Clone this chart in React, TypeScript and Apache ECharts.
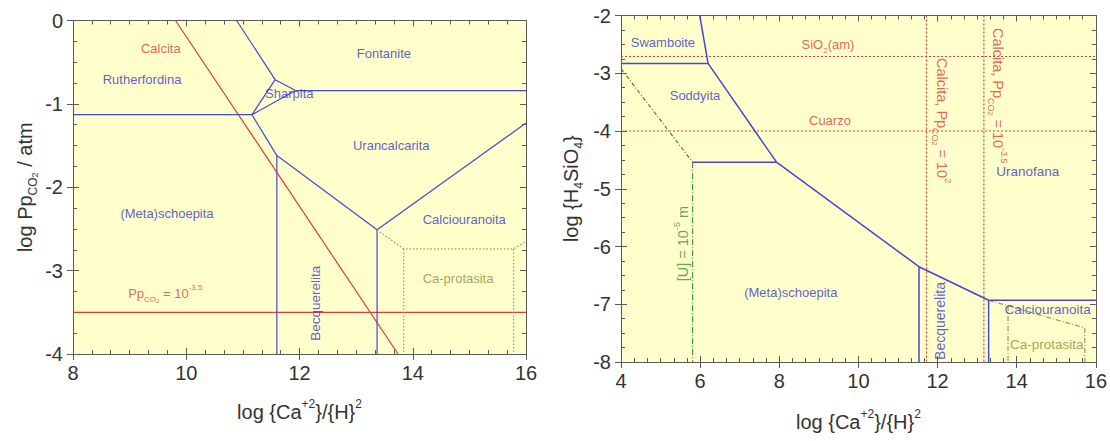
import React, { useEffect, useRef } from 'react';
import * as echarts from 'echarts';

const FONT = '"Liberation Sans", Arial, Helvetica, sans-serif';
const BLUE = '#4646D2';
const BLUE_TXT = '#3535C8';
const RED = '#E23A3A';
const OLIVE = '#9A9A48';
const OLIVE_TXT = '#8C8C3A';
const GREEN = '#3A8F2E';
const AXIS = '#5a5a5a';
const BG = '#FFFFCC';

// ---------- Left diagram: log Pp CO2 vs log {Ca+2}/{H}2 ----------
const leftX = { min: 8, max: 16, interval: 2 };
const leftY = { min: -4, max: 0, interval: 1 };
const leftCalcita = [[9.81, 0], [13.74, -4]];
const leftPpCO2 = [[8, -3.5], [16, -3.5]];
const leftBoundaries = [
  [[8, -1.13], [11.16, -1.13]],
  [[10.89, 0], [11.57, -0.71]],
  [[11.57, -0.71], [11.16, -1.13]],
  [[11.57, -0.71], [11.93, -0.84]],
  [[11.16, -1.13], [11.93, -0.84]],
  [[11.93, -0.84], [16, -0.84]],
  [[11.16, -1.13], [11.6, -1.62]],
  [[11.6, -1.62], [11.6, -4]],
  [[11.6, -1.62], [13.37, -2.51]],
  [[13.37, -2.51], [13.37, -4]],
  [[13.37, -2.51], [16, -1.23]],
];
const leftCaProtasita = [
  [[13.37, -2.51], [13.84, -2.74], [15.78, -2.74], [16, -2.65]],
  [[13.84, -2.74], [13.84, -4]],
  [[15.78, -2.74], [15.78, -4]],
];
const leftLabelTexts = [
  'Calcita', 'Rutherfordina', 'Sharpita', 'Fontanite', 'Urancalcarita',
  '(Meta)schoepita', 'Calciouranoita', 'Ca-protasita', 'Becquerelita',
  'Pp{sub|CO}{sub2|2} = 10{sup|-3.5}',
];
const leftLabelAt = [
  [9.55, -0.34], [9.22, -0.71], [11.82, -0.88], [13.49, -0.4], [13.62, -1.5],
  [9.66, -2.31], [14.91, -2.39], [14.8, -3.09], [12.28, -3.39], [9.63, -3.28],
];
const leftLabelKind = ['red', 'blue', 'blue', 'blue', 'blue', 'blue', 'blue', 'olive', 'blue', 'red'];
const leftLabelRotate = [0, 0, 0, 0, 0, 0, 0, 0, 90, 0];
const leftLabelSize = [13, 13, 13, 13, 13, 13, 13, 13, 13.5, 13];

// ---------- Right diagram: log {H4SiO4} vs log {Ca+2}/{H}2 ----------
const rightX = { min: 4, max: 16, interval: 2 };
const rightY = { min: -8, max: -2, interval: 1 };
const rightBoundaries = [
  [[4, -2.83], [6.2, -2.83]],
  [[5.99, -2], [6.2, -2.83]],
  [[6.2, -2.83], [7.93, -4.54]],
  [[5.81, -4.54], [7.93, -4.54]],
  [[7.93, -4.54], [11.53, -6.35]],
  [[11.53, -6.35], [11.53, -8]],
  [[11.53, -6.35], [13.29, -6.93]],
  [[13.29, -6.93], [16, -6.93]],
  [[13.29, -6.93], [13.29, -8]],
];
const rightSilica = [
  [[4, -2.71], [16, -2.71]],
  [[4, -4.0], [16, -4.0]],
];
const rightCalcite = [
  [[11.72, -2], [11.72, -8]],
  [[13.17, -2], [13.17, -8]],
];
const rightCaProtasita = [
  [[13.29, -6.93], [15.72, -7.41]],
  [[15.72, -7.41], [15.72, -8]],
  [[13.78, -7.03], [13.78, -8]],
];
const rightUraniumDiag = [[4, -2.92], [5.81, -4.54]];
const rightUraniumVert = [[5.81, -4.54], [5.81, -8]];
const rightLabelTexts = [
  'Swamboite', 'SiO{sub|2}(am)', 'Soddyita', 'Cuarzo',
  'Calcita, Pp{sub|CO}{sub2|2} = 10{sup|2}', 'Calcita, Pp{sub|CO}{sub2|2} = 10{sup|-3.5}',
  'Uranofana', '[U] = 10{sup|-5} m', '(Meta)schoepita', 'Becquerelita',
  'Calciouranoita', 'Ca-protasita',
];
const rightLabelAt = [
  [5.06, -2.46], [9.23, -2.51], [5.87, -3.39], [9.28, -3.82],
  [12.11, -3.82], [13.52, -3.39],
  [14.28, -4.7], [5.57, -5.95], [8.29, -6.79], [12.06, -7.29],
  [14.78, -7.09], [14.76, -7.69],
];
const rightLabelKind = ['blue', 'red', 'blue', 'red', 'red', 'red', 'blue', 'green', 'blue', 'blue', 'blue', 'olive'];
const rightLabelRotate = [0, 0, 0, 0, -90, -90, 0, 90, 0, 90, 0, 0];
const rightLabelSize = [13, 13, 13, 13, 14.5, 14.5, 13.5, 14.5, 13, 14, 13.5, 13.5];

const kindColor: Record<string, string> = { blue: BLUE_TXT, red: RED, olive: OLIVE_TXT, green: GREEN };

function richFor(color: string, base: number) {
  return {
    sup: { fontSize: Math.round(base * 0.62), verticalAlign: 'top', lineHeight: Math.round(base * 0.62), color, fontFamily: FONT },
    sub: { fontSize: Math.round(base * 0.62), verticalAlign: 'bottom', lineHeight: Math.round(base * 0.62), color, fontFamily: FONT },
    sub2: { fontSize: Math.round(base * 0.45), verticalAlign: 'bottom', lineHeight: Math.round(base * 0.45), color, fontFamily: FONT },
  };
}

const tickLine = { color: AXIS, width: 1 };

function axesX(gridIndex: number, r: { min: number; max: number; interval: number }, name: string, nameGap: number) {
  const common = {
    type: 'value', gridIndex, min: r.min, max: r.max, interval: r.interval,
    axisLine: { show: true, onZero: false, lineStyle: tickLine },
    splitLine: { show: false },
  };
  return [
    {
      ...common, position: 'bottom',
      axisTick: { show: true, inside: false, length: 6, lineStyle: tickLine },
      axisLabel: { fontSize: 20, color: '#333', margin: 9, fontFamily: FONT },
      name, nameLocation: 'middle', nameGap,
      nameTextStyle: { fontSize: 20, color: '#333', fontFamily: FONT, lineHeight: 28, rich: richFor('#333', 20) },
    },
    {
      ...common, position: 'bottom',
      axisTick: { show: true, inside: true, length: 6, lineStyle: tickLine },
      minorTick: { show: true, splitNumber: 6, length: 4, lineStyle: tickLine },
      axisLabel: { show: false },
    },
    {
      ...common, position: 'top',
      axisTick: { show: true, inside: true, length: 6, lineStyle: tickLine },
      minorTick: { show: true, splitNumber: 6, length: 4, lineStyle: tickLine },
      axisLabel: { show: false },
    },
  ];
}

function axesY(gridIndex: number, r: { min: number; max: number; interval: number }, name: string, nameGap: number) {
  const common = {
    type: 'value', gridIndex, min: r.min, max: r.max, interval: r.interval,
    axisLine: { show: true, onZero: false, lineStyle: tickLine },
    splitLine: { show: false },
  };
  return [
    {
      ...common, position: 'left',
      axisTick: { show: true, inside: false, length: 6, lineStyle: tickLine },
      axisLabel: { fontSize: 20, color: '#333', margin: 10, fontFamily: FONT },
      name, nameLocation: 'middle', nameGap, nameRotate: 90,
      nameTextStyle: { fontSize: 20, color: '#333', fontFamily: FONT, lineHeight: 28, rich: richFor('#333', 20) },
    },
    {
      ...common, position: 'left',
      axisTick: { show: true, inside: true, length: 6, lineStyle: tickLine },
      minorTick: { show: true, splitNumber: 4, length: 4, lineStyle: tickLine },
      axisLabel: { show: false },
    },
    {
      ...common, position: 'right',
      axisTick: { show: true, inside: true, length: 6, lineStyle: tickLine },
      minorTick: { show: true, splitNumber: 4, length: 4, lineStyle: tickLine },
      axisLabel: { show: false },
    },
  ];
}

function seg(points: number[][], xi: number, yi: number, color: string, type: any, width = 1.2) {
  return {
    type: 'line', xAxisIndex: xi, yAxisIndex: yi, data: points,
    symbol: 'none', showSymbol: false, silent: true, z: 3,
    lineStyle: { color, width, type },
  };
}

function labelSeries(texts: string[], at: number[][], kinds: string[], rots: number[], sizes: number[], xi: number, yi: number) {
  return {
    type: 'scatter', xAxisIndex: xi, yAxisIndex: yi, symbolSize: 1, silent: true, z: 5,
    itemStyle: { color: 'rgba(0,0,0,0)' },
    data: texts.map((t, i) => ({
      value: at[i],
      label: {
        show: true, position: 'inside', formatter: t, rotate: rots[i],
        fontSize: sizes[i], lineHeight: Math.round(sizes[i] * 1.5), fontFamily: FONT, color: kindColor[kinds[i]],
        rich: richFor(kindColor[kinds[i]], sizes[i]),
      },
    })),
  };
}

function buildOption() {
  const series: any[] = [];
  // left grid uses xAxis 0, yAxis 0
  series.push(seg(leftPpCO2, 0, 0, RED, 'solid', 1.2));
  series.push(seg(leftCalcita, 0, 0, RED, 'solid', 1.2));
  leftBoundaries.forEach((s) => series.push(seg(s, 0, 0, BLUE, 'solid', 1.2)));
  leftCaProtasita.forEach((s) => series.push(seg(s, 0, 0, OLIVE, [1.5, 2], 1.2)));
  series.push(labelSeries(leftLabelTexts, leftLabelAt, leftLabelKind, leftLabelRotate, leftLabelSize, 0, 0));
  // right grid uses xAxis 3, yAxis 3
  rightSilica.forEach((s) => series.push(seg(s, 3, 3, RED, [2, 2], 1.2)));
  rightCalcite.forEach((s) => series.push(seg(s, 3, 3, RED, [2, 2], 1.2)));
  series.push(seg(rightUraniumDiag, 3, 3, '#556B3A', [4, 2, 1, 2], 1.1));
  series.push(seg(rightUraniumVert, 3, 3, GREEN, [6, 2, 1, 2], 1.1));
  rightCaProtasita.forEach((s) => series.push(seg(s, 3, 3, OLIVE, [5, 2, 1, 2], 1.2)));
  rightBoundaries.forEach((s) => series.push(seg(s, 3, 3, BLUE, 'solid', 1.5)));
  series.push(labelSeries(rightLabelTexts, rightLabelAt, rightLabelKind, rightLabelRotate, rightLabelSize, 3, 3));

  const xName = 'log {Ca{sup|+2}}/{H}{sup|2}';
  return {
    animation: false,
    backgroundColor: '#ffffff',
    grid: [
      { left: 73, top: 20.5, width: 453, height: 333.5, show: true, backgroundColor: BG, borderWidth: 0 },
      { left: 621, top: 15.5, width: 475, height: 347.5, show: true, backgroundColor: BG, borderWidth: 0 },
    ],
    xAxis: [
      ...axesX(0, leftX, xName, 44),
      ...axesX(1, rightX, xName, 46),
    ],
    yAxis: [
      ...axesY(0, leftY, 'log Pp{sub|CO}{sub2|2} / atm', 34),
      ...axesY(1, rightY, 'log {H{sub|4}SiO{sub|4}}', 36),
    ],
    series,
  };
}

export default function App() {
  const ref = useRef<HTMLDivElement>(null);
  useEffect(() => {
    if (!ref.current) return;
    const chart = echarts.init(ref.current, null, { renderer: 'svg' });
    chart.setOption(buildOption() as any);
    return () => chart.dispose();
  }, []);
  return (
    <div
      ref={ref}
      style={{ position: 'fixed', left: 0, top: 0, width: 1110, height: 441, background: '#fff' }}
    />
  );
}
